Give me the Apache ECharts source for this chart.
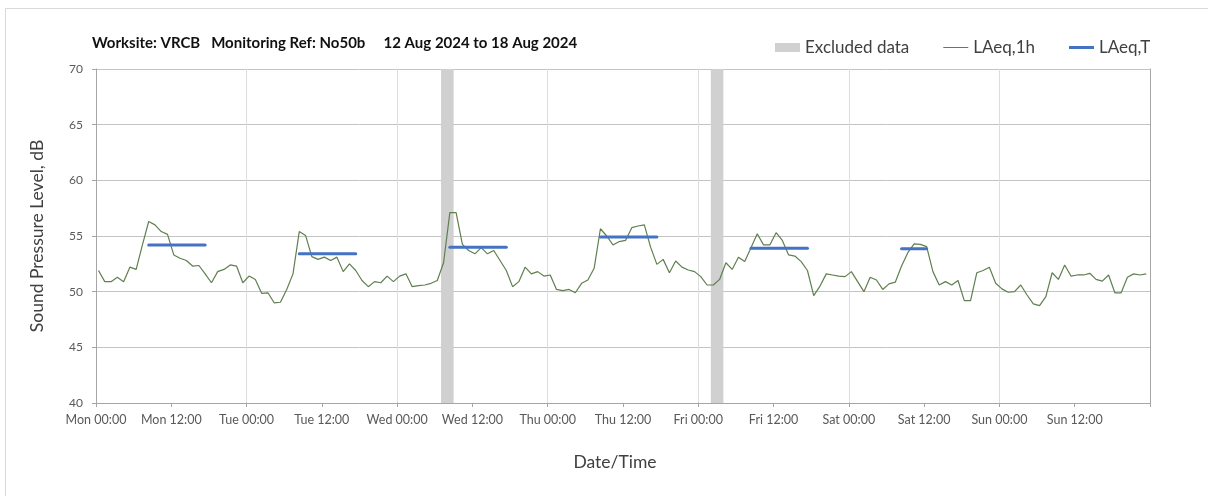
<!DOCTYPE html>
<html>
<head>
<meta charset="utf-8">
<script src="https://cdn.jsdelivr.net/npm/echarts@6/dist/echarts.min.js"></script>
<style>
html,body{margin:0;padding:0;background:#fff;}
#chart{width:1208px;height:496px;}
</style>
</head>
<body>
<div id="chart"></div>
<script>
// ---- Data ----
const TITLE_TEXT = 'Worksite: VRCB   Monitoring Ref: No50b     12 Aug 2024 to 18 Aug 2024';
const X_TICK_LABELS = ['Mon 00:00','Mon 12:00','Tue 00:00','Tue 12:00','Wed 00:00','Wed 12:00',
  'Thu 00:00','Thu 12:00','Fri 00:00','Fri 12:00','Sat 00:00','Sat 12:00','Sun 00:00','Sun 12:00',''];
// Hourly LAeq,1h values, hour 0 = Mon 00:00
const LAEQ_1H = [
  51.9,50.9,50.9,51.3,50.9,52.2,52.0,54.2,56.3,56.0,55.4,55.15,53.3,53.0,52.8,52.3,52.35,51.6,50.8,51.8,52.0,52.4,52.3,50.8,
  51.4,51.1,49.85,49.9,49.0,49.05,50.2,51.6,55.4,55.05,53.15,52.9,53.1,52.8,53.1,51.8,52.5,51.9,51.0,50.45,50.9,50.8,51.4,50.9,
  51.4,51.6,50.45,50.55,50.6,50.75,51.0,52.6,57.1,57.1,54.25,53.7,53.4,53.95,53.4,53.7,52.8,51.9,50.45,50.9,52.2,51.6,51.8,51.4,
  51.5,50.2,50.1,50.2,49.9,50.75,51.05,52.1,55.65,55.0,54.2,54.5,54.6,55.75,55.9,56.0,54.0,52.45,52.9,51.7,52.75,52.2,51.95,51.8,
  51.35,50.6,50.6,51.1,52.6,52.0,53.1,52.7,53.95,55.2,54.2,54.2,55.3,54.6,53.3,53.2,52.7,51.9,49.65,50.5,51.6,51.5,51.4,51.35,
  51.8,50.9,50.0,51.3,51.05,50.2,50.7,50.85,52.3,53.5,54.3,54.25,54.05,51.8,50.6,50.9,50.6,51.0,49.2,49.2,51.7,51.9,52.2,50.75,
  50.25,49.95,50.0,50.6,49.7,48.9,48.75,49.55,51.7,51.1,52.4,51.4,51.5,51.5,51.65,51.1,50.95,51.5,49.9,49.9,51.3,51.6,51.5,51.6
];
// LAeq,T periods (hour index of first and last hourly value) and levels
const T_START = [8, 32, 56, 80, 104, 128];
const T_END   = [17, 41, 65, 89, 113, 132];
const T_LEVEL = [54.2, 53.4, 54.0, 54.9, 53.9, 53.85];
// Excluded data periods (hours from Mon 00:00)
const EXCL_START = [55, 98];
const EXCL_END   = [57, 100];
const HOUR_OFFSET = 0.4; // plotting position of each hourly value within the hour

// ---- Build options ----
const FONT = 'Lato, "Open Sans", sans-serif';
const GREEN = '#5F7F4F', BLUE = '#4472C4', GREY_BAND = '#D0D0D0';
const hourly = LAEQ_1H.map((v, i) => [i + HOUR_OFFSET, v]);
const tSeries = T_START.map((s, k) => ({
  name: 'LAeq,T', type: 'line', symbol: 'none', z: 4,
  lineStyle: { color: BLUE, width: 3, cap: 'round' }, itemStyle: { color: BLUE },
  data: [[s + HOUR_OFFSET, T_LEVEL[k]], [T_END[k] + HOUR_OFFSET, T_LEVEL[k]]]
}));

const chart = echarts.init(document.getElementById('chart'), null, { renderer: 'canvas' });
chart.setOption({
  backgroundColor: '#fff',
  animation: false,
  title: {
    text: TITLE_TEXT, left: 87, top: 31,
    textStyle: { fontFamily: FONT, fontWeight: 'bold', fontSize: 15, color: '#111' }
  },
  legend: {
    left: 770, top: 34, itemWidth: 25, itemHeight: 9, itemGap: 34,
    textStyle: { fontFamily: FONT, fontSize: 17, color: '#404040' },
    data: [
      { name: 'Excluded data', icon: 'rect', itemStyle: { color: GREY_BAND } },
      { name: 'LAeq,1h', icon: 'path://M0,0 H25 V1 H0 Z', itemStyle: { color: GREEN } },
      { name: 'LAeq,T', icon: 'path://M0,0 H25 V3 H0 Z', itemStyle: { color: BLUE } }
    ]
  },
  graphic: [{
    type: 'rect', shape: { x: 5.5, y: 8.5, width: 1400, height: 700 },
    style: { fill: 'none', stroke: '#D9D9D9', lineWidth: 1 }, silent: true
  }],
  grid: { left: 96, right: 58, top: 69, bottom: 93 },
  xAxis: {
    type: 'value', min: 0, max: 168, interval: 12,
    name: 'Date/Time', nameLocation: 'middle', nameGap: 47,
    nameTextStyle: { fontFamily: FONT, fontSize: 17.5, color: '#404040', padding: [3, 16, 0, 0] },
    axisLine: { show: true, lineStyle: { color: '#A6A6A6' } },
    axisTick: { show: true, length: 4, lineStyle: { color: '#A6A6A6' } },
    axisLabel: {
      fontFamily: FONT, fontSize: 12.5, color: '#595959', margin: 10,
      formatter: v => X_TICK_LABELS[Math.round(v / 12)] || ''
    },
    splitLine: { show: true, lineStyle: { color: ['#DDDDDD', 'rgba(0,0,0,0)'], width: 1 } }
  },
  yAxis: [{
    type: 'value', min: 40, max: 70, interval: 5,
    name: 'Sound Pressure Level, dB', nameLocation: 'middle', nameGap: 50, nameRotate: 90,
    nameTextStyle: { fontFamily: FONT, fontSize: 17.5, color: '#404040' },
    axisLine: { show: true, lineStyle: { color: '#A6A6A6' } },
    axisTick: { show: true, length: 4, lineStyle: { color: '#A6A6A6' } },
    axisLabel: { fontFamily: FONT, fontSize: 12, color: '#595959', margin: 13 },
    splitLine: { show: true, lineStyle: { color: '#C4C4C4', width: 1 } }
  }, {
    type: 'value', min: 40, max: 70, interval: 5, position: 'right',
    axisLine: { show: true, lineStyle: { color: '#A6A6A6' } },
    axisTick: { show: false }, axisLabel: { show: false }, splitLine: { show: false }
  }],
  series: [
    {
      name: 'Excluded data', type: 'line', data: [], symbol: 'none', z: 1,
      itemStyle: { color: GREY_BAND },
      markArea: {
        silent: true, itemStyle: { color: GREY_BAND },
        data: EXCL_START.map((s, k) => [{ xAxis: s }, { xAxis: EXCL_END[k] }])
      }
    },
    {
      name: 'LAeq,1h', type: 'line', symbol: 'none', z: 3, data: hourly,
      lineStyle: { color: GREEN, width: 1.2 }, itemStyle: { color: GREEN }
    },
    ...tSeries
  ]
});
</script>
</body>
</html>
